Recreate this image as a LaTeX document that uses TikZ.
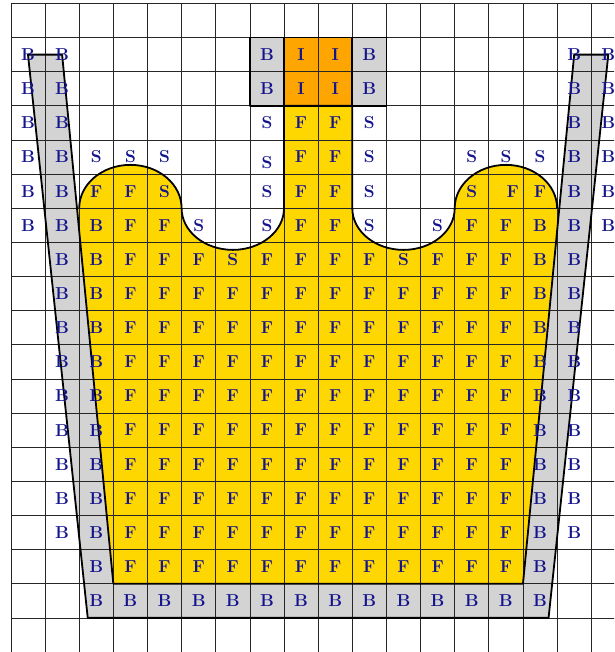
\documentclass[tikz,border=0pt]{standalone}
\usepackage{tikz}
\usetikzlibrary{calc}
\definecolor{wallgray}{HTML}{D3D3D3}
\definecolor{fluid}{HTML}{FFD700}
\definecolor{inlet}{HTML}{FFA500}
\definecolor{tagblue}{HTML}{14148C}

\begin{document}
\begin{tikzpicture}[
  gridline/.style={draw=black!85, line width=0.6pt},
  outline/.style={draw=black, line width=1.5pt, line join=round},
  tag/.style={font=\Large\bfseries\color{tagblue}, inner sep=0pt},
  wall/.style={fill=wallgray},
  water/.style={fill=fluid},
  source/.style={fill=inlet}
]
  \useasboundingbox (-0.32,0) rectangle (17.67,19.1);
  \clip (-0.32,0) rectangle (17.67,19.1);

  % fluid body, its sides run under the walls
  \fill[water] (2,13) arc[start angle=180, end angle=0, x radius=1.5, y radius=1.27]
    arc[start angle=180, end angle=360, x radius=1.5, y radius=1.22]
    -- (8,16) -- (10,16) -- (10,13)
    arc[start angle=180, end angle=360, x radius=1.5, y radius=1.22]
    arc[start angle=180, end angle=0, x radius=1.5, y radius=1.27]
    -- (16.4,13) -- (15.4,1.5) -- (2.6,1.5) -- (1.6,13) -- cycle;

  % container walls and inlet
  \fill[wall] (0.5,17.5) -- (2.25,1) -- (15.75,1) -- (17.5,17.5) -- (16.5,17.5)
    -- (15,2) -- (3,2) -- (1.5,17.5) -- cycle;
  \fill[wall] (7,16) rectangle (8,18);
  \fill[source] (8,16) rectangle (10,18);
  \fill[wall] (10,16) rectangle (11,18);

  \draw[gridline] (0,0) grid (18,19);

  \draw[outline] (0.5,17.5) -- (2.25,1) -- (15.75,1) -- (17.5,17.5) -- (16.5,17.5)
    -- (15,2) -- (3,2) -- (1.5,17.5) -- cycle;
  \draw[outline] (2,13) arc[start angle=180, end angle=0, x radius=1.5, y radius=1.27]
    arc[start angle=180, end angle=360, x radius=1.5, y radius=1.22]
    -- (8,16) -- (10,16) -- (10,13)
    arc[start angle=180, end angle=360, x radius=1.5, y radius=1.22]
    arc[start angle=180, end angle=0, x radius=1.5, y radius=1.27];
  \draw[outline] (7,16) rectangle (11,18);
  \draw[outline] (8,16) -- (8,18);
  \draw[outline] (10,16) -- (10,18);

  % cell tags, row by row from the top
  \foreach \r/\row in {
    1/{0/B,1/B,7/B,8/I,9/I,10/B,16/B,17/B},
    2/{0/B,1/B,7/B,8/I,9/I,10/B,16/B,17/B},
    3/{0/B,1/B,7/S,8/F,9/F,10/S,16/B,17/B},
    4/{0/B,1/B,2/S,3/S,4/S,8/F,9/F,10/S,13/S,14/S,15/S,16/B,17/B},
    5/{0/B,1/B,2/F,3/F,4/S,7/S,8/F,9/F,10/S,13/S,15/F,16/B,17/B},
    6/{0/B,1/B,2/B,3/F,4/F,5/S,7/S,8/F,9/F,10/S,12/S,13/F,14/F,15/B,16/B,17/B},
    7/{1/B,2/B,3/F,4/F,5/F,6/S,7/F,8/F,9/F,10/F,11/S,12/F,13/F,14/F,15/B,16/B},
    16/{2/B,15/B},
    17/{2/B,3/B,4/B,5/B,6/B,7/B,8/B,9/B,10/B,11/B,12/B,13/B,14/B,15/B}%
  }{
    \foreach \c/\t in \row
      \node[tag] (t-\r-\c) at (\c+0.5,18.5-\r) {\t};
  }
  \foreach \r in {8,...,15}{
    \foreach \c/\t in {1/B,2/B,15/B,16/B}
      \node[tag] (t-\r-\c) at (\c+0.5,18.5-\r) {\t};
  }
  \foreach \r in {8,...,16}{
    \foreach \c in {3,...,14}
      \node[tag] (t-\r-\c) at (\c+0.5,18.5-\r) {F};
  }
  \node[tag] (t-4-7) at (7.5,14.33) {S};
  \node[tag] (t-5-14) at (14.7,13.5) {F};
\end{tikzpicture}
\end{document}
